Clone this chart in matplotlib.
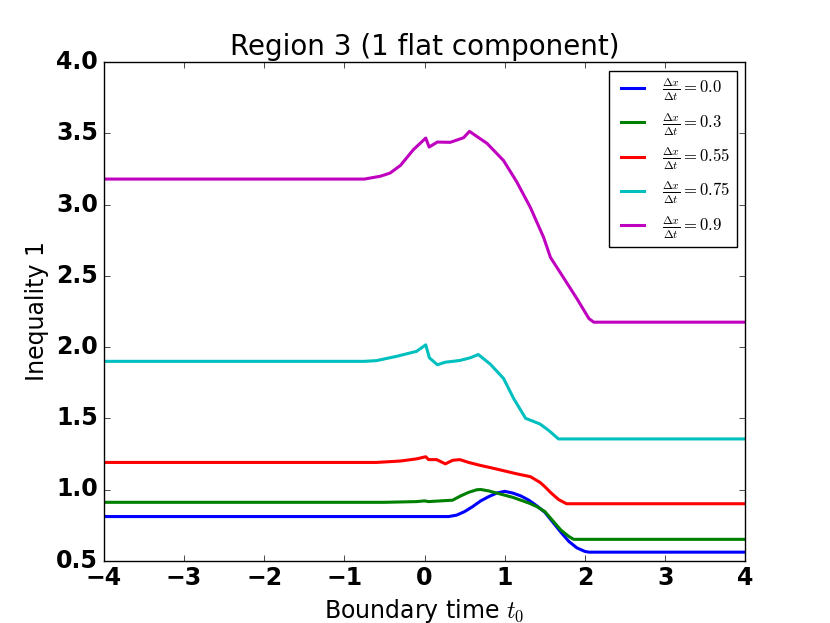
import matplotlib
matplotlib.use("Agg")
import matplotlib.pyplot as plt
import numpy as np

plt.style.use('classic')

# Data
t_blue = [-4.0, 0.30, 0.40, 0.50, 0.60, 0.70, 0.80, 0.90, 1.00, 1.10, 1.20, 1.30, 1.40, 1.50, 1.60, 1.70, 1.80, 1.90, 2.00, 2.05, 4.0]
v_blue = [0.81, 0.81, 0.82, 0.845, 0.88, 0.92, 0.95, 0.975, 0.987, 0.975, 0.955, 0.925, 0.885, 0.84, 0.77, 0.70, 0.635, 0.59, 0.565, 0.56, 0.56]

t_green = [-4.0, -0.5, -0.1, 0.0, 0.05, 0.2, 0.35, 0.45, 0.55, 0.65, 0.70, 0.80, 0.90, 1.00, 1.10, 1.20, 1.30, 1.40, 1.50, 1.60, 1.70, 1.80, 1.86, 4.0]
v_green = [0.91, 0.91, 0.915, 0.92, 0.915, 0.92, 0.925, 0.955, 0.98, 0.998, 1.0, 0.99, 0.975, 0.96, 0.945, 0.925, 0.905, 0.88, 0.845, 0.78, 0.715, 0.67, 0.65, 0.65]

t_red = [-4.0, -0.6, -0.3, -0.1, 0.015, 0.05, 0.15, 0.26, 0.35, 0.44, 0.55, 0.69, 0.85, 1.00, 1.15, 1.32, 1.44, 1.50, 1.57, 1.67, 1.77, 4.0]
v_red = [1.19, 1.19, 1.20, 1.215, 1.23, 1.21, 1.21, 1.18, 1.205, 1.21, 1.19, 1.17, 1.15, 1.13, 1.11, 1.09, 1.05, 1.02, 0.98, 0.93, 0.90, 0.90]

t_cyan = [-4.0, -0.75, -0.6, -0.35, -0.1, 0.015, 0.06, 0.16, 0.26, 0.44, 0.57, 0.67, 0.82, 0.985, 1.11, 1.26, 1.44, 1.55, 1.67, 4.0]
v_cyan = [1.90, 1.90, 1.905, 1.935, 1.97, 2.016, 1.925, 1.876, 1.894, 1.906, 1.925, 1.948, 1.88, 1.78, 1.64, 1.50, 1.46, 1.414, 1.355, 1.355]

t_mag = [-4.0, -0.75, -0.55, -0.43, -0.30, -0.14, 0.015, 0.057, 0.16, 0.32, 0.486, 0.56, 0.78, 0.985, 1.15, 1.32, 1.485, 1.57, 1.73, 1.90, 2.05, 2.11, 4.0]
v_mag = [3.18, 3.18, 3.20, 3.222, 3.276, 3.386, 3.468, 3.405, 3.44, 3.438, 3.47, 3.515, 3.43, 3.31, 3.16, 2.98, 2.77, 2.63, 2.49, 2.34, 2.20, 2.175, 2.175]

labels = ["0.0", "0.3", "0.55", "0.75", "0.9"]
colors = ["b", "g", "r", "c", "m"]

series = [(t_blue, v_blue), (t_green, v_green), (t_red, v_red), (t_cyan, v_cyan), (t_mag, v_mag)]

fig = plt.figure(figsize=(8.3, 6.23), dpi=100, facecolor="white")
ax = fig.add_subplot(111)
fig.subplots_adjust(left=0.125, right=0.898, bottom=0.1, top=0.9)

for (t, v), lab, c in zip(series, labels, colors):
    ax.plot(t, v, color=c, lw=2.2,
            label=r"$\frac{\Delta x}{\Delta t} = $" + r"$" + lab + r"$")

ax.set_xlim(-4, 4)
ax.set_ylim(0.5, 4.0)
ax.set_xticks([-4, -3, -2, -1, 0, 1, 2, 3, 4])
ax.set_yticks([0.5, 1.0, 1.5, 2.0, 2.5, 3.0, 3.5, 4.0])
for lbl in ax.get_xticklabels() + ax.get_yticklabels():
    lbl.set_fontsize(17)
    lbl.set_fontweight("bold")

ax.set_title("Region 3 (1 flat component)", fontsize=20)
ax.set_xlabel(r"Boundary time $t_0$", fontsize=17)
ax.set_ylabel("Inequality 1", fontsize=17)

leg = ax.legend(loc="upper right", fontsize=12, frameon=True, fancybox=False)
leg.get_frame().set_edgecolor("black")

fig.savefig("out.png", dpi=100, facecolor="white")
